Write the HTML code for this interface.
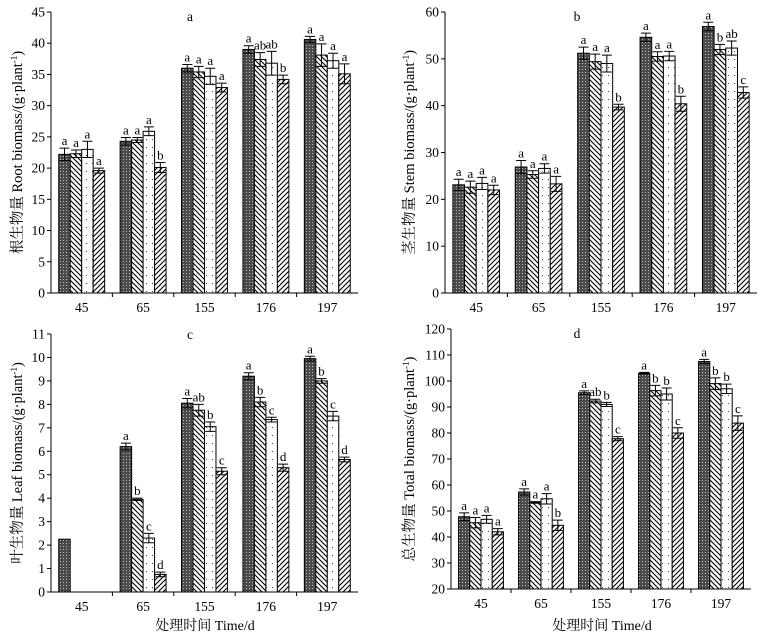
<!DOCTYPE html>
<html><head><meta charset="utf-8"><style>
body{margin:0;background:#fff;}
svg{display:block;font-family:"Liberation Serif","Noto Serif CJK SC",serif;}
</style></head><body>
<svg id="chart" width="764" height="637" viewBox="0 0 764 637" xmlns="http://www.w3.org/2000/svg">
<defs>
<pattern id="p0" width="3" height="3" patternUnits="userSpaceOnUse"><rect width="3" height="3" fill="#4a4a4a"/><rect width="1" height="1" fill="#bbb"/></pattern>
<pattern id="p1" width="5" height="5" patternUnits="userSpaceOnUse"><rect width="5" height="5" fill="#fff"/><path d="M-1,-1 L6,6 M-1,4 L1,6 M4,-1 L6,1" stroke="#000" stroke-width="1.1"/></pattern>
<pattern id="p2" width="6" height="8" patternUnits="userSpaceOnUse"><rect width="6" height="8" fill="#fff"/><rect x="2" y="3" width="1" height="1" fill="#444"/></pattern>
<pattern id="p3" width="5" height="5" patternUnits="userSpaceOnUse"><rect width="5" height="5" fill="#fff"/><path d="M-1,6 L6,-1 M-1,1 L1,-1 M4,6 L6,4" stroke="#000" stroke-width="1.1"/></pattern>
</defs>
</svg>
<script>
const categories=["45","65","155","176","197"];
const rootVals=[[22.2,22.3,23.0,19.6],[24.3,24.5,25.9,20.1],[36.0,35.4,34.7,32.9],[39.0,37.4,36.8,34.2],[40.6,38.1,37.2,35.1]];
const rootErr=[[1.0,0.6,1.3,0.4],[0.6,0.4,0.7,0.8],[0.6,0.9,1.3,0.7],[0.6,1.1,1.9,0.7],[0.5,1.8,1.2,1.6]];
const rootSig=[["a","a","a","a"],["a","a","a","b"],["a","a","a","a"],["a","ab","ab","b"],["a","a","a","a"]];
const stemVals=[[23.1,22.6,23.4,22.0],[26.9,25.3,26.6,23.3],[51.2,49.4,49.0,39.7],[54.6,50.5,50.6,40.4],[56.9,52.0,52.3,42.8]];
const stemErr=[[1.2,1.3,1.3,1.0],[1.4,0.8,1.0,1.6],[1.3,1.6,1.8,0.6],[0.9,1.0,1.0,1.6],[0.9,1.1,1.5,1.2]];
const stemSig=[["a","a","a","a"],["a","a","a","a"],["a","a","a","b"],["a","a","a","b"],["a","b","ab","c"]];
const leafVals=[[2.25,0,0,0],[6.2,3.95,2.3,0.75],[8.05,7.75,7.05,5.15],[9.2,8.1,7.35,5.3],[9.95,9.0,7.5,5.65]];
const leafErr=[[0,0,0,0],[0.15,0.05,0.2,0.1],[0.2,0.25,0.2,0.15],[0.15,0.2,0.1,0.15],[0.1,0.1,0.2,0.1]];
const leafSig=[["","","",""],["a","b","c","d"],["a","ab","b","c"],["a","b","c","d"],["a","b","c","d"]];
const totalVals=[[47.8,45.5,46.8,42.0],[57.3,53.3,54.7,44.5],[95.5,92.3,91.0,77.8],[103.0,96.3,95.0,80.0],[107.5,99.0,97.0,83.8]];
const totalErr=[[1.5,2.0,1.5,1.2],[1.2,0.3,2.0,2.0],[0.7,0.7,0.8,0.8],[0.3,2.0,2.3,2.0],[0.8,2.2,1.8,2.8]];
const totalSig=[["a","a","a","a"],["a","a","a","b"],["a","ab","b","c"],["a","b","b","c"],["a","b","b","c"]];
const rootTicks=[0,5,10,15,20,25,30,35,40,45];
const stemTicks=[0,10,20,30,40,50,60];
const leafTicks=[0,1,2,3,4,5,6,7,8,9,10,11];
const totalTicks=[20,30,40,50,60,70,80,90,100,110,120];

const NS="http://www.w3.org/2000/svg";
const svg=document.getElementById("chart");
function mk(tag,attrs,parent,text){const e=document.createElementNS(NS,tag);for(const k in attrs)e.setAttribute(k,attrs[k]);if(text!==undefined)e.textContent=text;(parent||svg).appendChild(e);return e;}

function panel(cfg){
  const g=mk("g",{});
  
  
  const ymin=cfg.ticks[0],ymax=cfg.ticks[cfg.ticks.length-1];
  const y=v=>cfg.y0+(cfg.y1-cfg.y0)*(Math.max(v,ymin)-ymin)/(ymax-ymin);
  const band=(cfg.x1-cfg.x0)/categories.length;
  const bw=band*0.187;
  const xc=i=>cfg.x0+band*(i+0.5);
  const ya=mk("line",{x1:cfg.x0,y1:cfg.y0,x2:cfg.x0,y2:cfg.y1,stroke:"#000"},g);
  
  
  const xa=mk("line",{x1:cfg.x0,y1:cfg.y0,x2:cfg.x1,y2:cfg.y0,stroke:"#000"},g);
  
  
  cfg.ticks.forEach(t=>{
    mk("line",{x1:cfg.x0-4,x2:cfg.x0,y1:y(t),y2:y(t),stroke:"#000"},g);
    const tl=mk("text",{x:cfg.x0-6,y:y(t)+4.5,"text-anchor":"end","font-size":"13.5"},g,t);
    
    
  });
  for(let i=1;i<categories.length;i++)mk("line",{x1:cfg.x0+band*i,x2:cfg.x0+band*i,y1:cfg.y0,y2:cfg.y0+4,stroke:"#000"},g);
  categories.forEach((c,i)=>{
    const tl=mk("text",{x:xc(i),y:cfg.y0+19,"text-anchor":"middle","font-size":"13.5"},g,c);
    
    
    cfg.vals[i].forEach((v,j)=>{
      if(v<=0)return;
      const bx=xc(i)-2*bw+j*bw;
      const r=mk("rect",{x:bx,y:y(v),width:bw,height:y(ymin)-y(v),fill:"url(#p"+j+")",stroke:"#000","stroke-width":"1"},g);
      
      
      const e=cfg.err[i][j];
      if(e>0){
        const cx=bx+bw/2;
        mk("path",{d:`M${cx},${y(v+e)}V${y(v-e)}M${cx-5},${y(v+e)}H${cx+5}M${cx-5},${y(v-e)}H${cx+5}`,stroke:"#000","stroke-width":"1",fill:"none"},g);
      }
      const s=cfg.sig[i][j];
      if(s){
        const st=mk("text",{x:bx+bw/2,y:y(v+e)-3,"text-anchor":"middle","font-size":"13"},g,s);
        
        
      }
    });
  });
  const pl=mk("text",{x:cfg.lx,y:cfg.ly,"text-anchor":"middle","font-size":"13.5"},g,cfg.letter);
  
  
  const cy=(cfg.y0+cfg.y1)/2;
  const yt=mk("text",{x:cfg.tx,y:cy,"text-anchor":"middle","font-size":"14.5",transform:`rotate(-90 ${cfg.tx} ${cy})`},g);
  
  
  yt.textContent=cfg.title;
  mk("tspan",{"baseline-shift":"super","font-size":"9"},yt,"-1");
  mk("tspan",{},yt,")");
}
panel({name:"root-panel",x0:51,x1:358,y0:293,y1:12,ticks:rootTicks,vals:rootVals,err:rootErr,sig:rootSig,letter:"a",lx:190,ly:21,tx:22,title:"根生物量 Root biomass/(g·plant"});
panel({name:"stem-panel",x0:445,x1:757,y0:293,y1:12,ticks:stemTicks,vals:stemVals,err:stemErr,sig:stemSig,letter:"b",lx:577,ly:21,tx:414,title:"茎生物量 Stem biomass/(g·plant"});
panel({name:"leaf-panel",x0:51,x1:358,y0:592,y1:334,ticks:leafTicks,vals:leafVals,err:leafErr,sig:leafSig,letter:"c",lx:190,ly:339,tx:22,title:"叶生物量 Leaf biomass/(g·plant"});
panel({name:"total-panel",x0:451,x1:751,y0:589,y1:329,ticks:totalTicks,vals:totalVals,err:totalErr,sig:totalSig,letter:"d",lx:577,ly:338,tx:414,title:"总生物量 Total biomass/(g·plant"});
const t1=mk("text",{x:205,y:630,"text-anchor":"middle","font-size":"14"},svg,"处理时间 Time/d");


const t2=mk("text",{x:602,y:630,"text-anchor":"middle","font-size":"14"},svg,"处理时间 Time/d");


</script>
</body></html>
